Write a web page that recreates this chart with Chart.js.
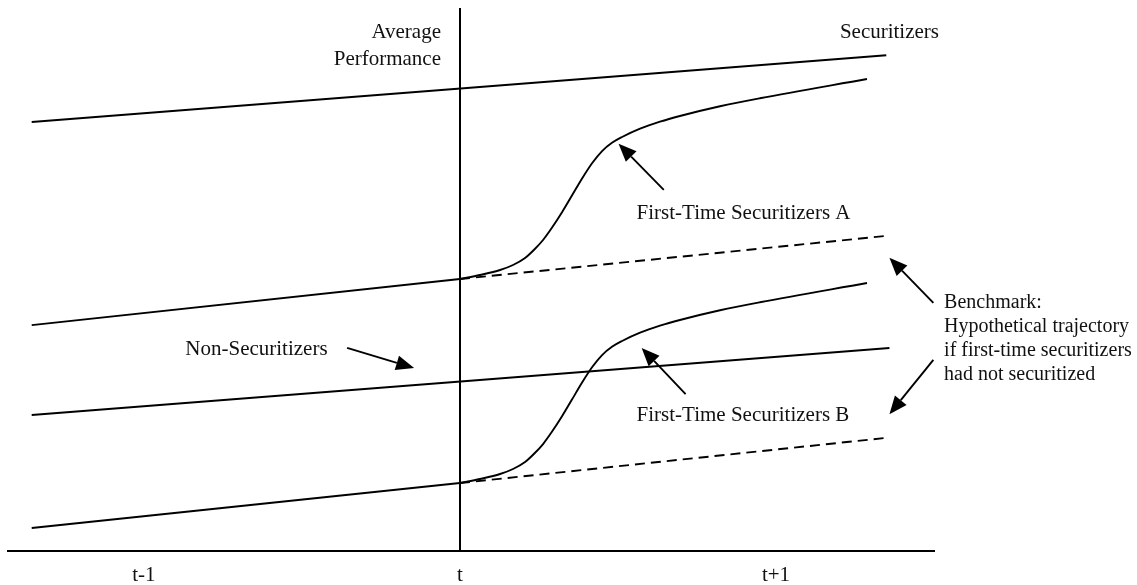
<!DOCTYPE html>
<html>
<head>
<meta charset="utf-8">
<script src="https://cdn.jsdelivr.net/npm/chart.js@4.4.1/dist/chart.umd.min.js"></script>
<style>
  html, body { margin: 0; padding: 0; background: #fff; }
  #wrap { width: 1137px; height: 585px; }
</style>
</head>
<body>
<div id="wrap"><canvas id="chart" width="1137" height="585"></canvas></div>
<script>
// x: periods (t-1 = -1, t = 0, t+1 = 1), y: average performance (schematic units)
const tickValues = [-1, 0, 1];
const tickLabels = ['t-1', 't', 't+1'];

const securitizersX = [-1.355, 1.349];
const securitizersY = [79.0, 91.3];

const nonSecX = [-1.355, 1.359];
const nonSecY = [25.05, 37.38];

// first-time securitizers A: before t, after t (curve), benchmark (dashed)
const ftsAPreX = [-1.355, 0];
const ftsAPreY = [41.6, 50.09];
const ftsAPostX = [0, 0.063, 0.127, 0.168, 0.206, 0.237, 0.263, 0.291, 0.323, 0.354, 0.386,
    0.418, 0.449, 0.481, 0.513, 0.570, 0.633, 0.696, 0.823, 0.949, 1.288];
const ftsAPostY = [50.09, 50.83, 51.75, 52.67, 53.96, 55.62, 57.27, 59.52, 62.38, 65.41, 68.55,
    71.40, 73.61, 75.17, 76.24, 77.77, 79.06, 80.11, 81.90, 83.37, 86.92];
const benchAX = [0, 1.343];
const benchAY = [50.09, 58.0];

// first-time securitizers B
const ftsBPreX = [-1.355, 0];
const ftsBPreY = [4.24, 12.52];
const ftsBPostX = [0, 0.063, 0.127, 0.168, 0.206, 0.237, 0.263, 0.291, 0.323, 0.354, 0.386,
    0.418, 0.449, 0.481, 0.513, 0.570, 0.633, 0.696, 0.823, 0.949, 1.288];
const ftsBPostY = [12.52, 13.26, 14.18, 15.10, 16.39, 18.05, 19.70, 21.95, 24.81, 27.84, 30.98,
    33.83, 36.04, 37.60, 38.67, 40.20, 41.49, 42.54, 44.33, 45.80, 49.35];
const benchBX = [0, 1.343];
const benchBY = [12.52, 20.8];

// arrows: tail -> tip
const arrowFromX = [0.645, -0.357, 0.714, 1.498, 1.498];
const arrowFromY = [66.5, 37.4, 28.9, 45.7, 35.2];
const arrowToX = [0.502, -0.145, 0.575, 1.359, 1.359];
const arrowToY = [75.0, 33.7, 37.4, 54.0, 25.2];

// text notes (anchor in data units)
const notes = [
    { text: 'Average', x: -0.06, y: 95.4, align: 'right', size: 21 },
    { text: 'Performance', x: -0.06, y: 90.6, align: 'right', size: 21 },
    { text: 'Securitizers', x: 1.359, y: 95.4, align: 'center', size: 21 },
    { text: 'First-Time Securitizers A', x: 0.559, y: 62.2, align: 'left', size: 21 },
    { text: 'First-Time Securitizers B', x: 0.559, y: 24.9, align: 'left', size: 21 },
    { text: 'Non-Securitizers', x: -0.869, y: 37.2, align: 'left', size: 21 },
    { text: 'Benchmark:', x: 1.532, y: 45.67, align: 'left', size: 20 },
    { text: 'Hypothetical trajectory', x: 1.532, y: 41.25, align: 'left', size: 20 },
    { text: 'if first-time securitizers', x: 1.532, y: 36.83, align: 'left', size: 20 },
    { text: 'had not securitized', x: 1.532, y: 32.41, align: 'left', size: 20 }
];

const FONT = "'Liberation Serif', 'Times New Roman', serif";

function pts(xs, ys) {
    return xs.map((x, i) => ({ x: x, y: ys[i] }));
}

function series(xs, ys, dashed, curved) {
    return {
        data: pts(xs, ys),
        borderColor: '#000',
        borderWidth: 1.9,
        borderDash: dashed ? [10, 6] : [],
        pointRadius: 0,
        fill: false,
        tension: 0,
        cubicInterpolationMode: curved ? 'monotone' : 'default'
    };
}

function drawArrow(ctx, x1, y1, x2, y2) {
    const ang = Math.atan2(y2 - y1, x2 - x1);
    const head = 18, half = 7.5;
    const bx = x2 - head * Math.cos(ang);
    const by = y2 - head * Math.sin(ang);
    ctx.beginPath();
    ctx.moveTo(x1, y1);
    ctx.lineTo(bx, by);
    ctx.stroke();
    ctx.beginPath();
    ctx.moveTo(x2, y2);
    ctx.lineTo(bx + half * Math.sin(ang), by - half * Math.cos(ang));
    ctx.lineTo(bx - half * Math.sin(ang), by + half * Math.cos(ang));
    ctx.closePath();
    ctx.fill();
}

const notesPlugin = {
    id: 'notes',
    afterDraw(chart) {
        const ctx = chart.ctx;
        const sx = chart.scales.x, sy = chart.scales.y;
        ctx.save();
        ctx.strokeStyle = '#000';
        ctx.fillStyle = '#000';
        ctx.lineWidth = 1.9;
        for (let i = 0; i < arrowFromX.length; i++) {
            drawArrow(ctx,
                sx.getPixelForValue(arrowFromX[i]), sy.getPixelForValue(arrowFromY[i]),
                sx.getPixelForValue(arrowToX[i]), sy.getPixelForValue(arrowToY[i]));
        }
        ctx.fillStyle = '#111';
        ctx.textBaseline = 'middle';
        notes.forEach(n => {
            ctx.font = n.size + 'px ' + FONT;
            ctx.textAlign = n.align;
            ctx.fillText(n.text, sx.getPixelForValue(n.x), sy.getPixelForValue(n.y));
        });
        ctx.restore();
    }
};

new Chart(document.getElementById('chart'), {
    type: 'line',
    data: {
        datasets: [
            series(securitizersX, securitizersY, false, false),
            series(nonSecX, nonSecY, false, false),
            series(ftsAPreX, ftsAPreY, false, false),
            series(ftsAPostX, ftsAPostY, false, true),
            series(benchAX, benchAY, true, false),
            series(ftsBPreX, ftsBPreY, false, false),
            series(ftsBPostX, ftsBPostY, false, true),
            series(benchBX, benchBY, true, false)
        ]
    },
    options: {
        responsive: false,
        animation: false,
        devicePixelRatio: 1,
        layout: { padding: { left: 8, right: 203, top: 8, bottom: 0 } },
        plugins: { legend: { display: false }, tooltip: { enabled: false } },
        scales: {
            x: {
                type: 'linear',
                min: -1.43,
                max: 1.5,
                afterBuildTicks: scale => {
                    scale.ticks = tickValues.map(v => ({ value: v }));
                },
                afterFit: scale => { scale.height = 34; },
                ticks: {
                    color: '#111',
                    padding: 12,
                    font: { family: FONT, size: 21 },
                    callback: v => tickLabels[tickValues.indexOf(v)]
                },
                grid: {
                    drawTicks: false,
                    lineWidth: 2,
                    color: c => (c.tick && c.tick.value === 0) ? '#000' : 'rgba(0,0,0,0)'
                },
                border: { display: true, color: '#000', width: 2 }
            },
            y: {
                display: false,
                min: 0,
                max: 100
            }
        }
    },
    plugins: [notesPlugin]
});
</script>
</body>
</html>
